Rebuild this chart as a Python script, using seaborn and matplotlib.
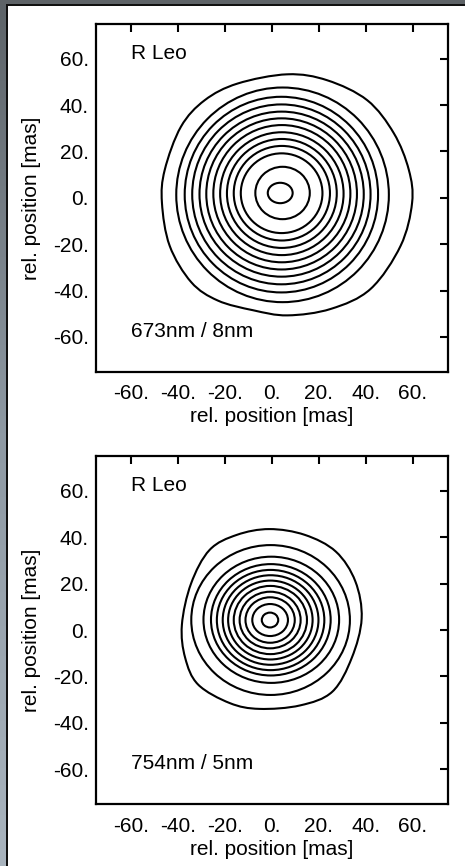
import numpy as np
import matplotlib
matplotlib.use("Agg")
import matplotlib.pyplot as plt
from matplotlib.patches import Ellipse, PathPatch, Rectangle
from matplotlib.path import Path
import seaborn as sns

# ---------------- data (units: mas) ----------------
star = "R Leo"
ticks = [-60, -40, -20, 0, 20, 40, 60]
tick_labels = ["-60.", "-40.", "-20.", "0.", "20.", "40.", "60."]
axis_label = "rel. position [mas]"

# Panel 1 : 673nm / 8nm  -- inner contours (nearly elliptical)
p1_label = "673nm / 8nm"
p1_cx = [3.5, 4.5, 4.1, 4.2, 4.2, 4.2, 4.2, 4.1, 4.1, 4.0, 4.0, 4.5]
p1_cy = [2.1, 2.1, 2.0, 2.0, 1.9, 1.8, 1.8, 1.7, 1.6, 1.5, 1.4, 1.3]
p1_rx = [5.3, 11.6, 17.4, 20.5, 23.4, 26.3, 29.2, 32.1, 35.0, 38.0, 41.2, 45.3]
p1_ry = [4.4, 11.3, 17.2, 20.4, 23.5, 26.5, 29.6, 32.6, 35.6, 38.8, 42.2, 46.3]
# outermost contour, traced points
p1_outer_x = [6.6, -14.7, -28.7, -38.8, -45.7, -46.9, -43.6, -34.4, -23.1, -8.0,
              6.6, 25.1, 42.0, 54.8, 59.7, 58.3, 51.9, 40.6, 23.6]
p1_outer_y = [53.3, 49.3, 42.1, 30.7, 12.1, -2.1, -20.7, -36.4, -44.3, -48.5,
              -50.7, -47.9, -39.3, -20.7, -2.1, 12.1, 27.9, 42.1, 50.7]

# Panel 2 : 754nm / 5nm
p2_label = "754nm / 5nm"
p2_cx = [-0.85, -0.8, -0.8, -0.8, -0.7, -0.7, -0.6, -0.6, -0.5, -0.3, -0.6]
p2_cy = [4.3, 4.3, 4.3, 4.3, 4.3, 4.3, 4.3, 4.3, 4.4, 4.4, 4.3]
p2_rx = [3.5, 7.6, 10.5, 13.0, 15.6, 18.0, 20.4, 22.9, 25.5, 28.9, 33.8]
p2_ry = [3.2, 6.9, 9.8, 12.2, 14.7, 17.0, 19.3, 21.6, 24.0, 27.2, 32.3]
p2_outer_x = [-1.1, -15.0, -26.6, -34.5, -38.4, -37.0, -31.5, -18.0, -5.4,
              12.0, 25.7, 34.0, 38.2, 35.5, 27.2, 14.0]
p2_outer_y = [43.5, 41.0, 34.5, 20.0, 2.2, -12.0, -23.5, -31.5, -34.0,
              -32.5, -26.6, -12.0, 5.0, 21.0, 33.8, 41.0]

# ---------------- style ----------------
sns.set_theme(style="white")
plt.rcParams["font.family"] = ["Liberation Sans", "DejaVu Sans"]
plt.rcParams["text.color"] = "black"
plt.rcParams["axes.labelcolor"] = "black"
plt.rcParams["xtick.color"] = "black"
plt.rcParams["ytick.color"] = "black"

W, H = 465, 866
fig = plt.figure(figsize=(W / 100, H / 100), dpi=100)
fig.patch.set_facecolor("white")

LW = 1.5


def closed_smooth_path(xs, ys):
    """Closed Catmull-Rom curve through the traced points, as Bezier path."""
    pts = np.column_stack([xs, ys]).astype(float)
    n = len(pts)
    verts = [pts[0]]
    codes = [Path.MOVETO]
    for i in range(n):
        p0, p1, p2, p3 = pts[i - 1], pts[i], pts[(i + 1) % n], pts[(i + 2) % n]
        c1 = p1 + (p2 - p0) / 6.0
        c2 = p2 - (p3 - p1) / 6.0
        verts += [c1, c2, p2]
        codes += [Path.CURVE4] * 3
    return Path(verts, codes)


def panel(rect, cx, cy, rx, ry, ox, oy, label):
    ax = fig.add_axes(rect)
    ax.set_facecolor("white")
    for x0, y0, a, b in zip(cx, cy, rx, ry):
        ax.add_patch(Ellipse((x0, y0), 2 * a, 2 * b, fill=False,
                             edgecolor="black", lw=LW))
    ax.add_patch(PathPatch(closed_smooth_path(ox, oy), fill=False,
                           edgecolor="black", lw=LW))
    ax.set_xlim(-75, 75)
    ax.set_ylim(-75, 75)
    ax.set_xticks(ticks)
    ax.set_yticks(ticks)
    ax.set_xticklabels(tick_labels)
    ax.set_yticklabels(tick_labels)
    ax.tick_params(direction="in", length=5.5, width=1.5, top=True, right=True,
                   labelsize=15, colors="black")
    ax.tick_params(axis="x", pad=9)
    ax.tick_params(axis="y", pad=5)
    for s in ax.spines.values():
        s.set_visible(True)
        s.set_color("black")
        s.set_linewidth(1.6)
    ax.set_xlabel(axis_label, fontsize=15, labelpad=3, color="black")
    ax.set_ylabel(axis_label, fontsize=15, labelpad=9, color="black")
    ax.text(-60, 60, star, fontsize=15, va="baseline", ha="left", color="black")
    ax.text(-60, -60, label, fontsize=15, va="baseline", ha="left", color="black")
    ax.grid(False)
    return ax


left = 96 / W
width = 352 / W
panel([left, 1 - 371.7 / H, width, 347.7 / H],
      p1_cx, p1_cy, p1_rx, p1_ry, p1_outer_x, p1_outer_y, p1_label)
panel([left, 1 - 804 / H, width, 348 / H],
      p2_cx, p2_cy, p2_rx, p2_ry, p2_outer_x, p2_outer_y, p2_label)

# window-like frame: gradient band on the left, dark band on top
band = fig.add_axes([0, 0, 6 / W, 1])
grad = np.linspace(0, 1, 256)[:, None]
cmap = matplotlib.colors.LinearSegmentedColormap.from_list(
    "frame", ["#5d6368", "#8e99a3", "#a9b4be"])
band.imshow(grad, aspect="auto", cmap=cmap, extent=[0, 1, 0, 1], origin="upper")
band.axis("off")
fig.patches.append(Rectangle((0, 1 - 4.5 / H), 1, 4.5 / H, transform=fig.transFigure,
                             facecolor="#5e6367", edgecolor="none", zorder=5))
fig.patches.append(Rectangle((6 / W, 0), 1.6 / W, 1 - 4.5 / H, transform=fig.transFigure,
                             facecolor="#111111", edgecolor="none", zorder=6))
fig.patches.append(Rectangle((6 / W, 1 - 5.8 / H), 1, 1.5 / H, transform=fig.transFigure,
                             facecolor="#111111", edgecolor="none", zorder=6))

fig.savefig("out.png", dpi=100)
